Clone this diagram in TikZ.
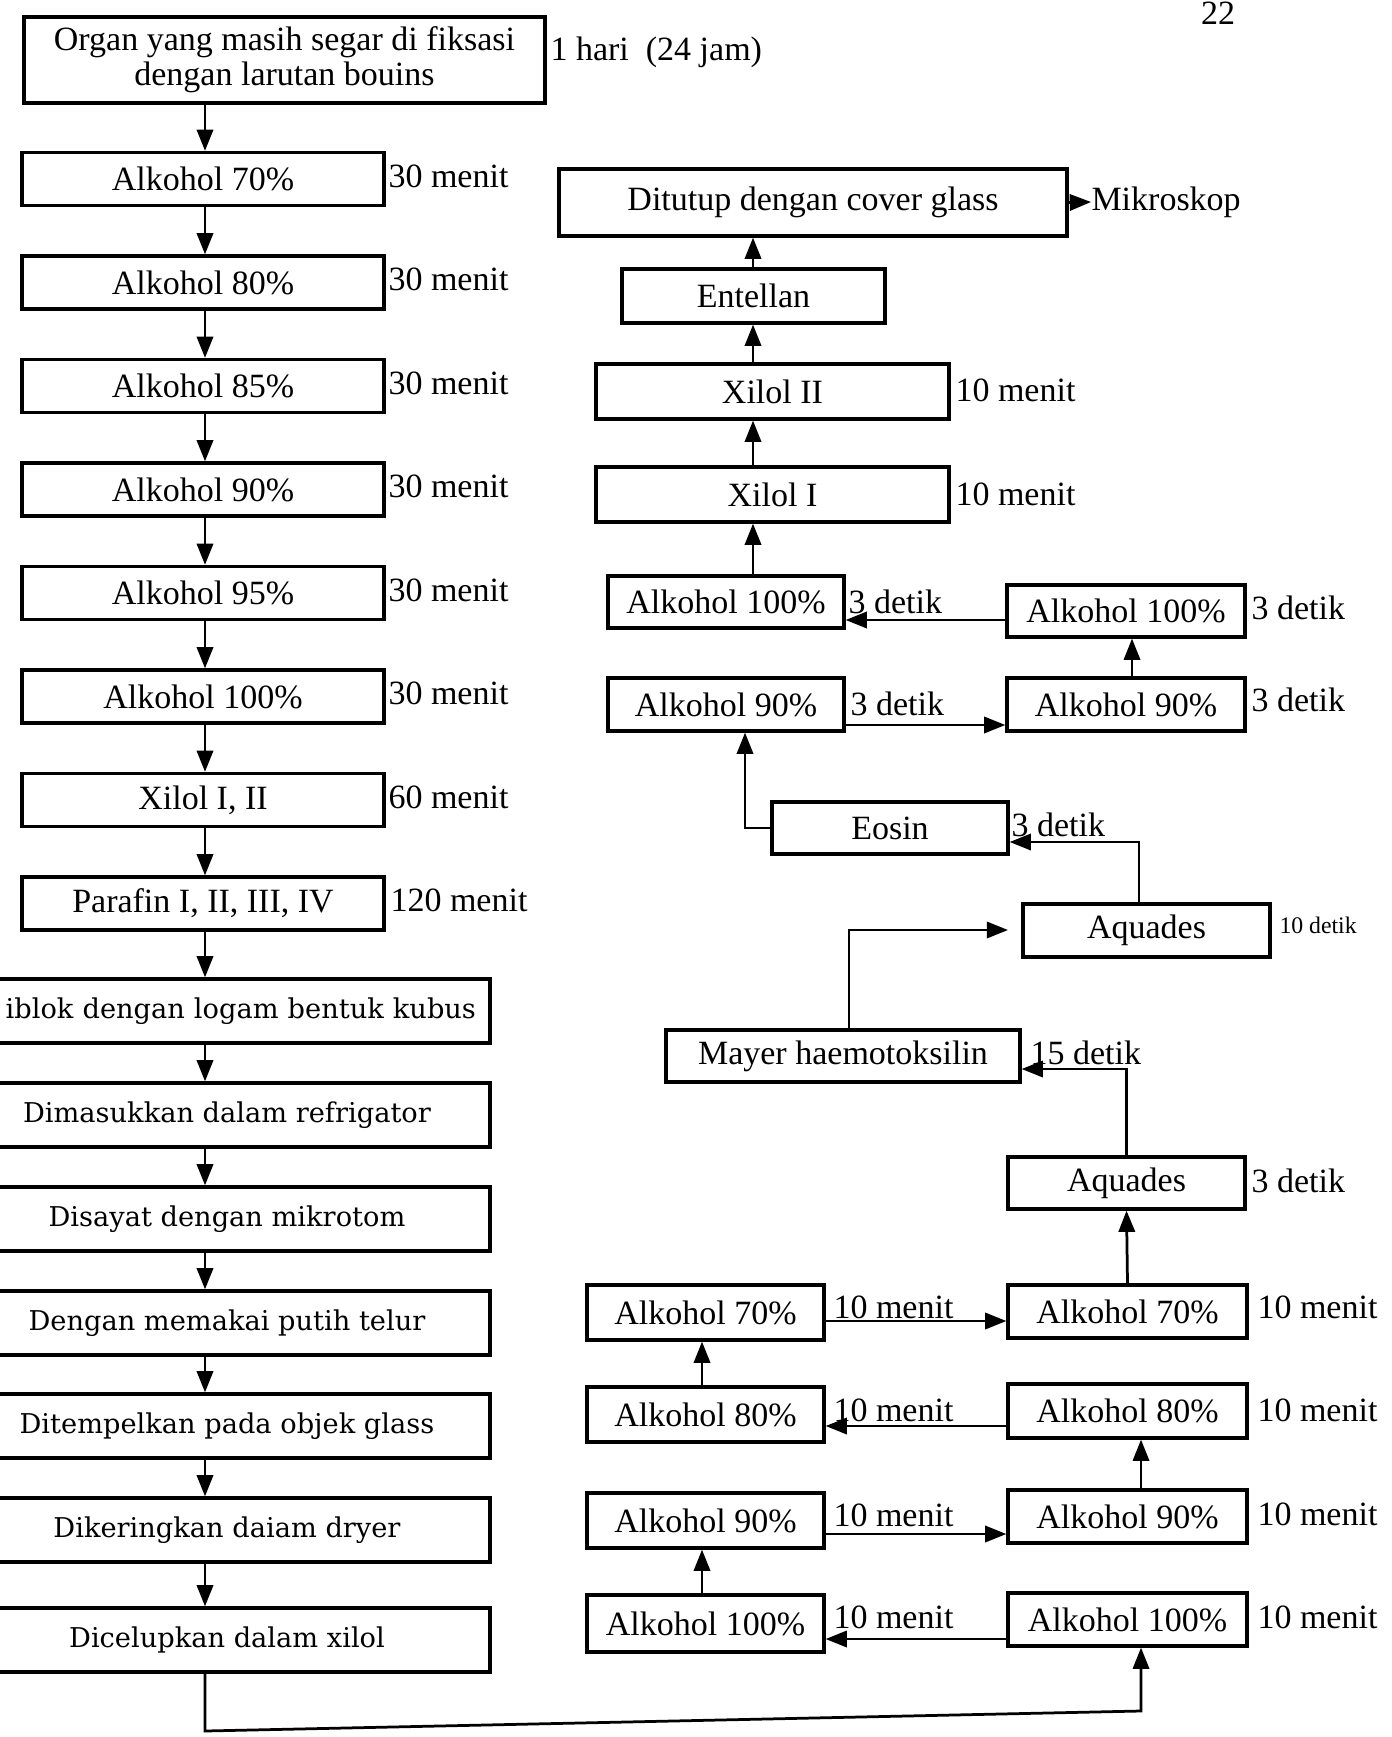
\documentclass[tikz,border=0pt]{standalone}
\usepackage{fontspec}
\setmainfont{Liberation Serif}
\newfontfamily\lowfont{DejaVu Serif}
\usetikzlibrary{arrows.meta}
\begin{document}
\begin{tikzpicture}[x=0.4pt,y=-0.4pt,
  box/.style={draw,line width=1.3pt,inner sep=0pt,font=\fontsize{13.6}{14}\selectfont},
  bx/.style 2 args={minimum width=#1*0.4pt,minimum height=#2*0.4pt},
  lowbox/.style={draw,line width=1.3pt,inner sep=0pt,minimum width=526*0.4pt,minimum height=64*0.4pt,font=\lowfont\fontsize{10.9}{13}\selectfont},
  lbl/.style={anchor=west,inner sep=0pt,font=\fontsize{13.6}{16}\selectfont},
  slbl/.style={anchor=west,inner sep=0pt,font=\fontsize{9.5}{11}\selectfont},
  conn/.style={line width=1.1pt,-{Triangle[length=8.5pt,width=6.5pt]}},
  plain/.style={line width=1pt}]
\useasboundingbox (0,0) rectangle (1391,1737);
\clip (0,0) rectangle (1391,1737);
\fill[white] (0,0) rectangle (1391,1737);

% page number
\node[lbl,anchor=north] (pg) at (1218,1) {22};

% ---------- left column ----------
\node[box,bx={521}{86},align=center] (organ) at (284.5,60) {Organ yang masih segar di fiksasi\\dengan larutan bouins};
\node[box,bx={362}{53}] (a70) at (203,179) {Alkohol 70\%};
\node[box,bx={362}{53}] (a80) at (203,282.5) {Alkohol 80\%};
\node[box,bx={362}{53}] (a85) at (203,386) {Alkohol 85\%};
\node[box,bx={362}{53}] (a90) at (203,489.5) {Alkohol 90\%};
\node[box,bx={362}{53}] (a95) at (203,593) {Alkohol 95\%};
\node[box,bx={362}{53}] (a100) at (203,696.5) {Alkohol 100\%};
\node[box,bx={362}{53}] (xil) at (203,800) {Xilol I, II};
\node[box,bx={362}{53}] (par) at (203,903.5) {Parafin I, II, III, IV};

\node[lbl] (t0) at (550,52) {1 hari\ \ (24 jam)};
\node[lbl] (t1) at (388,176) {30 menit};
\node[lbl] (t2) at (388,279.5) {30 menit};
\node[lbl] (t3) at (388,383) {30 menit};
\node[lbl] (t4) at (388,486.5) {30 menit};
\node[lbl] (t5) at (388,590) {30 menit};
\node[lbl] (t6) at (388,693.5) {30 menit};
\node[lbl] (t7) at (388,797) {60 menit};
\node[lbl] (t8) at (390,900.5) {120 menit};

\node[lowbox,text width=498*0.4pt,align=right] (blk) at (227,1011) {iblok dengan logam bentuk kubus};
\node[lowbox] (dim) at (227,1115) {Dimasukkan dalam refrigator};
\node[lowbox] (dis) at (227,1219) {Disayat dengan mikrotom};
\node[lowbox] (dpt) at (227,1323) {Dengan memakai putih telur};
\node[lowbox] (dtp) at (227,1426) {Ditempelkan pada objek glass};
\node[lowbox] (dkr) at (227,1530) {Dikeringkan daiam dryer};
\node[lowbox] (dcl) at (227,1640) {Dicelupkan dalam xilol};

\coordinate (lx) at (205,0);
\draw[conn] (organ.south -| lx) -- (a70.north -| lx);
\draw[conn] (a70.south -| lx) -- (a80.north -| lx);
\draw[conn] (a80.south -| lx) -- (a85.north -| lx);
\draw[conn] (a85.south -| lx) -- (a90.north -| lx);
\draw[conn] (a90.south -| lx) -- (a95.north -| lx);
\draw[conn] (a95.south -| lx) -- (a100.north -| lx);
\draw[conn] (a100.south -| lx) -- (xil.north -| lx);
\draw[conn] (xil.south -| lx) -- (par.north -| lx);
\draw[conn] (par.south -| lx) -- (blk.north -| lx);
\draw[conn] (blk.south -| lx) -- (dim.north -| lx);
\draw[conn] (dim.south -| lx) -- (dis.north -| lx);
\draw[conn] (dis.south -| lx) -- (dpt.north -| lx);
\draw[conn] (dpt.south -| lx) -- (dtp.north -| lx);
\draw[conn] (dtp.south -| lx) -- (dkr.north -| lx);
\draw[conn] (dkr.south -| lx) -- (dcl.north -| lx);

% ---------- right column ----------
\node[box,bx={508}{67}] (dit) at (813,202.5) {Ditutup dengan cover glass};
\node[lbl] (mik) at (1091,202) {Mikroskop};
\node[box,bx={263}{54}] (ent) at (753.5,296) {Entellan};
\node[box,bx={353}{55}] (x2) at (772.5,391.5) {Xilol II};
\node[box,bx={353}{55}] (x1) at (772.5,494.5) {Xilol I};
\node[lbl] (tx2) at (955,390) {10 menit};
\node[lbl] (tx1) at (955,494) {10 menit};

\node[box,bx={236}{52}] (b100l) at (726,602) {Alkohol 100\%};
\node[box,bx={238}{52}] (b100r) at (1126,611) {Alkohol 100\%};
\node[box,bx={236}{53}] (b90l) at (726,704.5) {Alkohol 90\%};
\node[box,bx={238}{53}] (b90r) at (1126,704.5) {Alkohol 90\%};
\node[lbl] (tb1) at (848,602) {3 detik};
\node[lbl] (tb2) at (1251,608) {3 detik};
\node[lbl] (tb3) at (850,704) {3 detik};
\node[lbl] (tb4) at (1251,700) {3 detik};

\node[box,bx={236}{52}] (eos) at (890,828) {Eosin};
\node[lbl] (te) at (1011,825) {3 detik};
\node[box,bx={247}{53}] (aq1) at (1146.5,930.5) {Aquades};
\node[slbl] (tq1) at (1279,925) {10 detik};
\node[box,bx={354}{52}] (may) at (843,1056) {Mayer haemotoksilin};
\node[lbl] (tm) at (1030,1053) {15 detik};
\node[box,bx={237}{52}] (aq2) at (1126.5,1183) {Aquades};
\node[lbl] (tq2) at (1251,1181) {3 detik};

\node[box,bx={237}{55}] (c70l) at (705.5,1312.5) {Alkohol 70\%};
\node[box,bx={239}{53}] (c70r) at (1127.5,1311.5) {Alkohol 70\%};
\node[box,bx={237}{55}] (c80l) at (705.5,1414.5) {Alkohol 80\%};
\node[box,bx={239}{54}] (c80r) at (1127.5,1411) {Alkohol 80\%};
\node[box,bx={237}{55}] (c90l) at (705.5,1520.5) {Alkohol 90\%};
\node[box,bx={239}{53}] (c90r) at (1127.5,1516.5) {Alkohol 90\%};
\node[box,bx={237}{57}] (c100l) at (705.5,1623.5) {Alkohol 100\%};
\node[box,bx={239}{53}] (c100r) at (1127.5,1619.5) {Alkohol 100\%};
\node[lbl] (tc1) at (833,1307) {10 menit};
\node[lbl] (tc2) at (1257,1307) {10 menit};
\node[lbl] (tc3) at (833,1410) {10 menit};
\node[lbl] (tc4) at (1257,1410) {10 menit};
\node[lbl] (tc5) at (833,1515) {10 menit};
\node[lbl] (tc6) at (1257,1514) {10 menit};
\node[lbl] (tc7) at (833,1617) {10 menit};
\node[lbl] (tc8) at (1257,1617) {10 menit};

% connectors right
\coordinate (rx) at (753,0);
\draw[conn] (dit.east) -- (mik.west);
\draw[conn] (ent.north -| rx) -- (dit.south -| rx);
\draw[conn] (x2.north -| rx) -- (ent.south -| rx);
\draw[conn] (x1.north -| rx) -- (x2.south -| rx);
\draw[conn] (b100l.north -| rx) -- (x1.south -| rx);
\coordinate (y1) at (0,620);
\draw[conn] (b100r.west |- y1) -- (b100l.east |- y1);
\coordinate (x1c) at (1132,0);
\draw[conn] (b90r.north -| x1c) -- (b100r.south -| x1c);
\coordinate (y2) at (0,725);
\draw[conn] (b90l.east |- y2) -- (b90r.west |- y2);
\coordinate (x2c) at (745,0);
\draw[conn] (eos.west) -| (b90l.south -| x2c);
\coordinate (x3c) at (1139,0);
\coordinate (y3) at (0,842);
\draw[conn] (aq1.north -| x3c) |- (eos.east |- y3);
\coordinate (x4c) at (849,0);
\coordinate (aqin) at (1008,930);
\draw[conn] (may.north -| x4c) |- (aqin);
\coordinate (y4) at (0,1069);
\draw[conn] (aq2.north) |- (may.east |- y4);
\draw[conn] (c70r.north) -- (aq2.south);
\coordinate (y5) at (0,1321);
\draw[conn] (c70l.east |- y5) -- (c70r.west |- y5);
\coordinate (x5c) at (702,0);
\draw[conn] (c80l.north -| x5c) -- (c70l.south -| x5c);
\coordinate (y6) at (0,1426);
\draw[conn] (c80r.west |- y6) -- (c80l.east |- y6);
\coordinate (x6c) at (1141,0);
\draw[conn] (c90r.north -| x6c) -- (c80r.south -| x6c);
\coordinate (y7) at (0,1534);
\draw[conn] (c90l.east |- y7) -- (c90r.west |- y7);
\draw[conn] (c100l.north -| x5c) -- (c90l.south -| x5c);
\coordinate (y8) at (0,1639);
\draw[conn] (c100r.west |- y8) -- (c100l.east |- y8);
\coordinate (bb1) at (205,1731);
\coordinate (bb2) at (1141,1711);
\draw[conn] (dcl.south -| bb1) -- (bb1) -- (bb2) -- (c100r.south -| bb2);
\end{tikzpicture}
\end{document}
